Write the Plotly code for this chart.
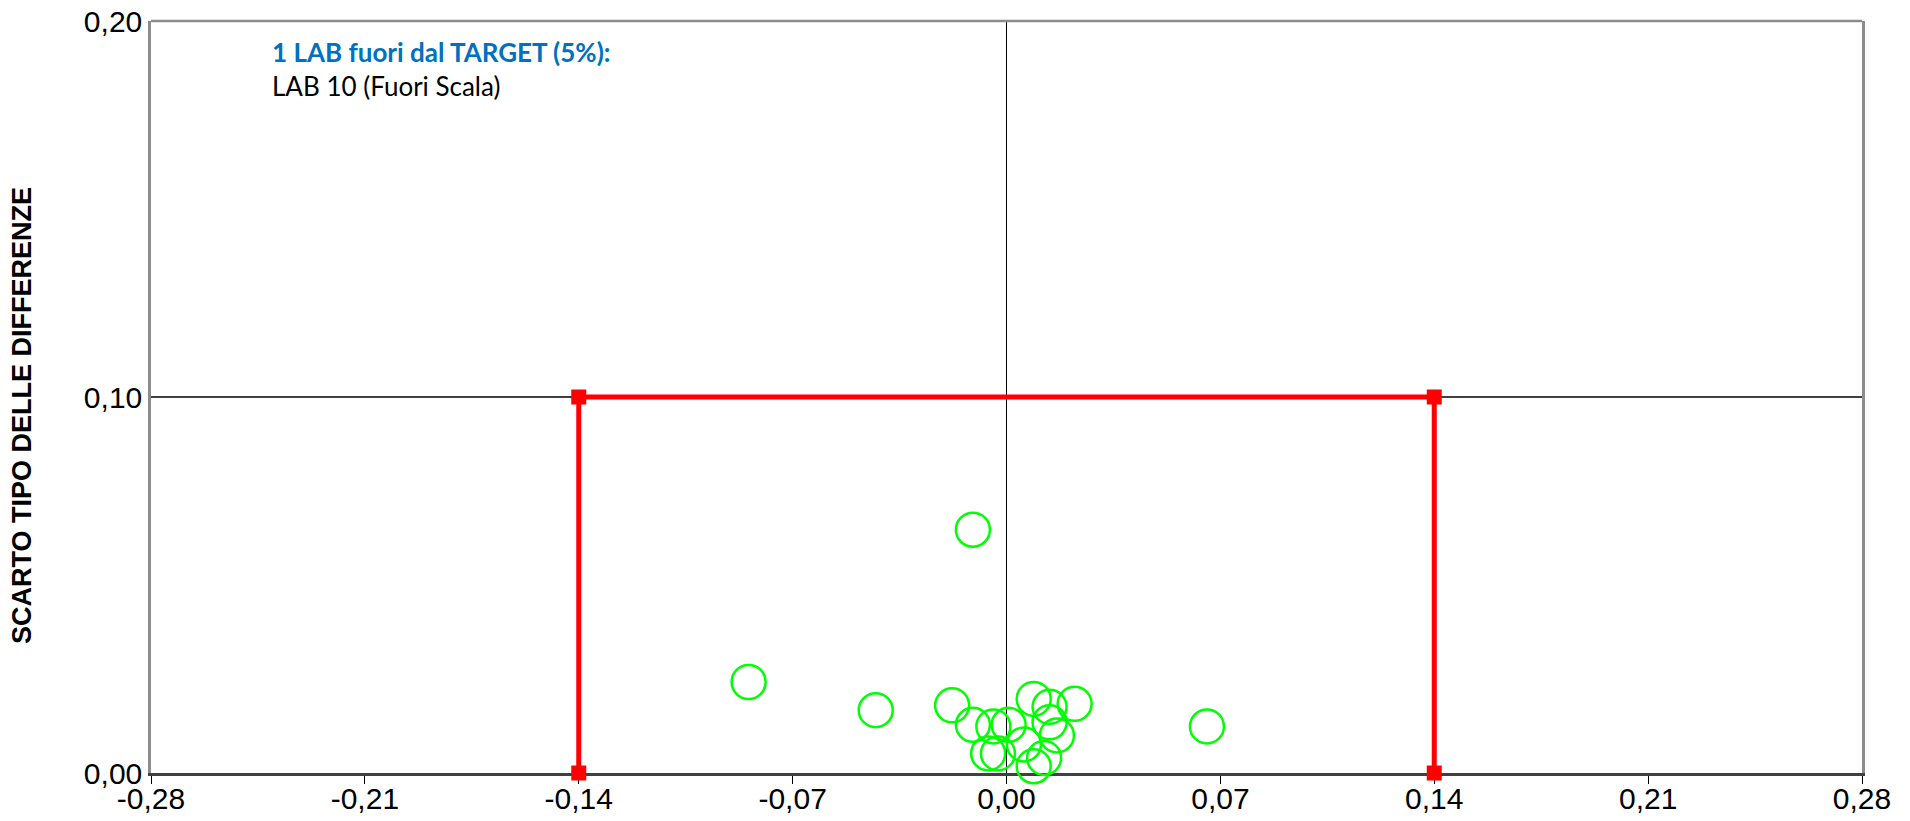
import plotly.graph_objects as go

# Differenza media (x) e scarto tipo delle differenze (y) per laboratorio
media_differenze = [
    -0.0844, -0.0428, -0.0178, -0.0110, -0.0110, -0.0043, 0.0007, -0.0060,
    -0.0028, 0.0057, 0.0089, 0.0141, 0.0223, 0.0141, 0.0165, 0.0123, 0.0089, 0.0656,
]
scarto_tipo = [
    0.0242, 0.0167, 0.0180, 0.0647, 0.0128, 0.0124, 0.0128, 0.0052,
    0.0052, 0.0076, 0.0197, 0.0176, 0.0184, 0.0135, 0.0100, 0.0040, 0.0018, 0.0124,
]

# Riquadro TARGET
target_x = [-0.14, -0.14, 0.14, 0.14]
target_y = [0.00, 0.10, 0.10, 0.00]

x_ticks = [-0.28, -0.21, -0.14, -0.07, 0.00, 0.07, 0.14, 0.21, 0.28]
x_labels = ["-0,28", "-0,21", "-0,14", "-0,07", "0,00", "0,07", "0,14", "0,21", "0,28"]
y_ticks = [0.00, 0.10, 0.20]
y_labels = ["0,00", "0,10", "0,20"]

fig = go.Figure()

fig.add_trace(go.Scatter(
    x=target_x, y=target_y,
    mode="lines+markers",
    line=dict(color="#FF0000", width=5),
    marker=dict(symbol="square", size=15, color="#FF0000"),
    cliponaxis=False,
    showlegend=False,
    hoverinfo="skip",
))

fig.add_trace(go.Scatter(
    x=media_differenze, y=scarto_tipo,
    mode="markers",
    marker=dict(symbol="circle-open", size=34, color="#00FF00",
                line=dict(color="#00FF00", width=2.5)),
    cliponaxis=False,
    showlegend=False,
))

tick_font = dict(family="Liberation Sans", size=30, color="#000000")

fig.update_layout(
    width=1910, height=821,
    margin=dict(l=151, r=48, t=21, b=48, autoexpand=False),
    paper_bgcolor="#FFFFFF",
    plot_bgcolor="#FFFFFF",
    xaxis=dict(
        range=[-0.28, 0.28],
        tickmode="array", tickvals=x_ticks, ticktext=x_labels,
        tickfont=tick_font,
        ticks="outside", ticklen=8, tickwidth=1, tickcolor="#000000",
        ticklabelstandoff=-11,
        showgrid=False,
        zeroline=True, zerolinecolor="#000000", zerolinewidth=1,
        showline=True, linecolor="#404040", linewidth=3,
        layer="below traces",
        fixedrange=True,
    ),
    yaxis=dict(
        range=[0, 0.20],
        tickmode="array", tickvals=y_ticks, ticktext=y_labels,
        tickfont=tick_font,
        ticks="",
        showgrid=True, gridcolor="#404040", gridwidth=1.5,
        zeroline=False,
        showline=True, linecolor="#8C8C8C", linewidth=2.5, mirror=True,
        layer="below traces",
        fixedrange=True,
    ),
    shapes=[
        dict(type="line", xref="paper", yref="paper", x0=0, x1=1, y0=1, y1=1,
             line=dict(color="#8C8C8C", width=2.5), layer="above"),
    ],
    annotations=[
        # titolo asse Y
        dict(text="<b>SCARTO TIPO DELLE DIFFERENZE</b>", xref="paper", yref="paper",
             x=-0.0754, y=0.476, xanchor="center", yanchor="middle", showarrow=False,
             textangle=-90,
             font=dict(family="Liberation Sans", size=27, color="#000000")),
        dict(text="<b>1 LAB fuori dal TARGET (5%):</b>", xref="paper", yref="paper",
             x=0.0698, y=0.9588, xanchor="left", yanchor="middle", showarrow=False,
             font=dict(family="Lato", size=26, color="#0070C0")),
        dict(text="LAB 10 (Fuori Scala)", xref="paper", yref="paper",
             x=0.0698, y=0.9136, xanchor="left", yanchor="middle", showarrow=False,
             font=dict(family="Lato", size=26, color="#000000")),
    ],
)

fig.write_html("out.html")
